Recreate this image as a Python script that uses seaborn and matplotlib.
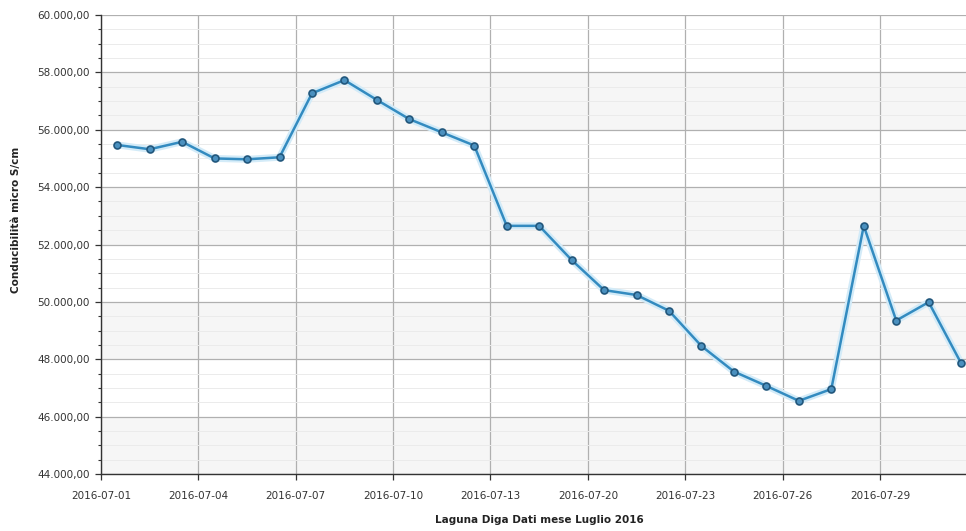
import numpy as np
import pandas as pd
import matplotlib
matplotlib.use("Agg")
import matplotlib.pyplot as plt
from matplotlib.ticker import FuncFormatter, MultipleLocator
import seaborn as sns

# giorni con misura (mancano 14-17 luglio)
giorni = ['2016-07-01', '2016-07-02', '2016-07-03', '2016-07-04', '2016-07-05',
          '2016-07-06', '2016-07-07', '2016-07-08', '2016-07-09', '2016-07-10',
          '2016-07-11', '2016-07-12', '2016-07-13', '2016-07-18', '2016-07-19',
          '2016-07-20', '2016-07-21', '2016-07-22', '2016-07-23', '2016-07-24',
          '2016-07-25', '2016-07-26', '2016-07-27', '2016-07-28', '2016-07-29',
          '2016-07-30', '2016-07-31']
conducibilita = [55470, 55320, 55580, 55000, 54970, 55040, 57270, 57730, 57040,
                 56370, 55910, 55450, 52650, 52650, 51460, 50410, 50240, 49690,
                 48460, 47570, 47070, 46550, 46960, 52650, 49350, 49990, 47860]

y_label = 'Conducibilità micro S/cm'
x_label = 'Laguna Diga Dati mese Luglio 2016'

df = pd.DataFrame({'giorno': giorni, 'valore': conducibilita})

sns.set_style('white')
plt.rcParams['font.family'] = ['DejaVu Sans']

fig = plt.figure(figsize=(9.66, 5.31), dpi=100)
ax = fig.add_axes([101 / 966, 1 - 474 / 531, 1 - 101 / 966, 459 / 531])

# bande alternate grigie
for lo in range(44000, 60000, 4000):
    ax.axhspan(lo, lo + 2000, color='#f6f6f6', zorder=0, lw=0)

# alone chiaro sotto la linea
sns.lineplot(data=df, x='giorno', y='valore', ax=ax, color='#d3ebf8',
             linewidth=5, sort=False, zorder=2)
sns.lineplot(data=df, x='giorno', y='valore', ax=ax, color='#338bc0',
             linewidth=1.8, marker='o', markersize=5,
             markerfacecolor='#4a90bf', markeredgecolor='#22577c',
             markeredgewidth=1.2, sort=False, zorder=3)

ax.set_ylim(44000, 60000)
ax.set_xlim(-0.5, 26.15)
ax.yaxis.set_major_locator(MultipleLocator(2000))
ax.yaxis.set_minor_locator(MultipleLocator(500))
ax.yaxis.set_major_formatter(FuncFormatter(
    lambda v, p: f'{v:,.2f}'.replace(',', 'X').replace('.', ',').replace('X', '.')))

pos = np.arange(0, len(giorni), 3)
ax.set_xticks(pos - 0.5)
ax.set_xticklabels([giorni[i] for i in pos])

ax.grid(True, which='major', color='#b0b0b0', linewidth=0.9)
ax.grid(True, which='minor', axis='y', color='#ebebeb', linewidth=0.7)
ax.set_axisbelow(True)

ax.tick_params(axis='both', which='major', labelsize=7.5, colors='#333333',
               length=4, width=0.9, direction='out', left=True, bottom=True)
ax.tick_params(axis='x', which='major', pad=8)
ax.tick_params(axis='y', which='major', pad=4)
ax.tick_params(axis='y', which='minor', length=2, width=0.8, left=True, color='#333333')

for s in ['top', 'right']:
    ax.spines[s].set_visible(False)
for s in ['left', 'bottom']:
    ax.spines[s].set_color('#333333')
    ax.spines[s].set_linewidth(1.0)

ax.set_xlabel(x_label, fontsize=7.5, fontweight='bold', color='#222222')
ax.set_ylabel(y_label, fontsize=7.5, fontweight='bold', color='#222222')
ax.xaxis.set_label_coords(0.507, -0.09)
ax.yaxis.set_label_coords(-0.092, 0.553)

fig.savefig('out.png', dpi=100)
